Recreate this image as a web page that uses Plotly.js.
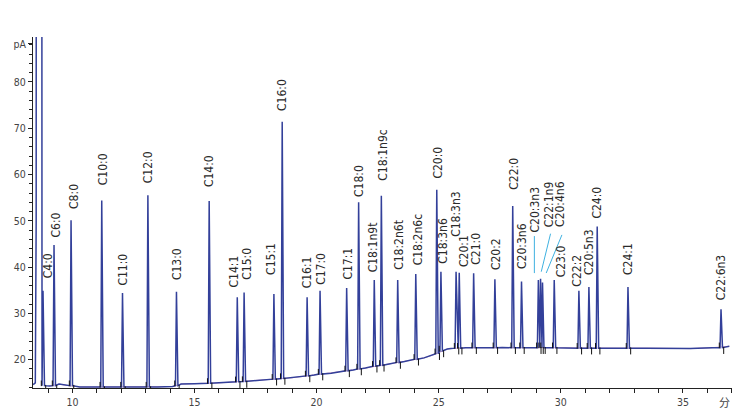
<!DOCTYPE html>
<html><head><meta charset="utf-8">
<script src="https://cdn.plot.ly/plotly-3.0.1.min.js"></script>
<style>html,body{margin:0;padding:0;background:#fff}#chart{width:754px;height:420px}</style>
</head><body><div id="chart"></div>
<script>
// ---------------- data ----------------
const peakLabels = ["C4:0","C6:0","C8:0","C10:0","C11:0","C12:0","C13:0","C14:0","C14:1","C15:0",
  "C15:1","C16:0","C16:1","C17:0","C17:1","C18:0","C18:1n9t","C18:1n9c","C18:2n6t","C18:2n6c",
  "C20:0","C18:3n6","C18:3n3","C20:1","C21:0","C20:2","C22:0","C20:3n6","C20:3n3","C22:1n9",
  "C20:4n6","C23:0","C22:2","C20:5n3","C24:0","C24:1","C22:6n3"];
const peakTimes = [8.795, 9.246, 9.943, 11.20, 12.05, 13.09, 14.26, 15.60, 16.75, 17.03,
  18.25, 18.59, 19.61, 20.14, 21.23, 21.72, 22.36, 22.65, 23.32, 24.06,
  24.92, 25.09, 25.71, 25.84, 26.43, 27.30, 28.03, 28.39, 29.08, 29.17,
  29.25, 29.73, 30.74, 31.15, 31.49, 32.75, 36.56];
const peakHeights = [34.9, 44.8, 50.1, 54.4, 34.4, 55.5, 34.7, 54.3, 33.5, 34.5,
  34.2, 71.4, 33.5, 34.9, 35.5, 54.0, 37.2, 55.4, 37.2, 38.5,
  56.7, 39.0, 39.0, 38.8, 38.7, 37.4, 53.2, 36.9, 37.2, 37.5,
  36.7, 37.2, 34.9, 35.7, 48.8, 35.7, 30.9];
const peakBases = [14.4, 14.4, 14.4, 14.1, 14.1, 14.1, 14.4, 14.9, 15.25, 15.3,
  15.8, 15.95, 16.5, 16.9, 17.6, 18.0, 18.6, 18.8, 19.4, 20.1,
  21.3, 21.9, 22.5, 22.5, 22.6, 22.6, 22.6, 22.6, 22.6, 22.6,
  22.6, 22.6, 22.5, 22.5, 22.5, 22.5, 22.6];
const baseTimes = [8.39, 8.48, 9.05, 9.45, 9.70, 10.3, 10.8, 11.6, 12.5, 13.5, 14.1, 14.45, 15.0, 15.3,
  16.0, 16.5, 17.5, 18.0, 19.0, 19.3, 19.9, 20.6, 21.0, 21.5, 22.0, 22.9, 23.6, 24.4, 24.7,
  25.35, 25.5, 26.1, 26.8, 27.6, 28.7, 29.5, 30.2, 31.8, 32.3, 33.5, 34.5, 35.3, 36.2, 36.9];
const baseValues = [14.6, 14.5, 14.3, 14.75, 14.5, 14.1, 14.1, 14.1, 14.1, 14.1, 14.2, 14.75, 14.8, 14.85,
  15.0, 15.15, 15.5, 15.7, 16.1, 16.3, 16.7, 17.1, 17.4, 17.8, 18.2, 19.0, 19.6, 20.4, 20.9,
  22.3, 22.4, 22.6, 22.6, 22.65, 22.6, 22.6, 22.55, 22.5, 22.5, 22.5, 22.45, 22.4, 22.6, 22.9];
const solventTimes = [8.39, 8.48, 8.515, 8.53, 8.725, 8.74, 8.75];
const solventValues = [14.6, 15.0, 50, 400, 400, 40, 15.0];
const xTickVals = [10, 15, 20, 25, 30, 35];
const xTickText = ["10", "15", "20", "25", "30", "35"];
const yTickVals = [20, 30, 40, 50, 60, 70, 80, 88.2];
const yTickText = ["20", "30", "40", "50", "60", "70", "80", "pA"];
const xUnitLabel = "分";
const xUnitPos = 36.69;

// ---------------- styling / placement (not data) ----------------
const W1 = 0.04, W2 = 0.06;             // peak foot half-widths (min)
const labelOffsets = [[5,12],[2,7],[3,11],[2,15],[1,7],[0,12],[0,12],[0,14],[-3,10],[2,13],
  [-3,19],[0,11],[0,9],[1,6],[1,8],[1,5],[-1,8],[2,15],[1,10],[2,9],
  [1,11],[2,8],[0,35],[4,6],[2,8],[1,9],[1,16],[1,12],[-3,48],[8,51],
  [18,55],[7,3],[-2,4],[0,12],[0,8],[0,12],[0,9]];
const leaders = [
  {peak: "C20:3n3", x0: -4, y0: 44, x1: -4, y1: 7},
  {peak: "C22:1n9", x0: 10, y0: 45, x1: 0.7, y1: 7},
  {peak: "C20:4n6", x0: 19.4, y0: 47.5, x1: 3.7, y1: 9.4}
];
const NARROW = "'Liberation Sans Narrow','Arial Narrow','DejaVu Sans Condensed','Roboto Condensed',sans-serif";

// ---------------- build signal ----------------
const lastSolvent = solventTimes[solventTimes.length - 1];
const pts = [];
solventTimes.forEach((t, i) => pts.push([t, solventValues[i]]));
baseTimes.forEach((t, i) => {
  if (t > lastSolvent && peakTimes.every(p => Math.abs(p - t) > 0.12)) pts.push([t, baseValues[i]]);
});
peakTimes.forEach((t, i) => {
  pts.push([t - W1, peakBases[i]]);
  pts.push([t, peakHeights[i]]);
  pts.push([t + W2, peakBases[i]]);
});
pts.sort((a, b) => a[0] - b[0]);

const traces = [
  { x: baseTimes.filter(t => t > lastSolvent), y: baseValues.filter((v, i) => baseTimes[i] > lastSolvent),
    mode: 'lines', line: {color: '#d7a2c6', width: 1}, hoverinfo: 'skip' },
  { x: pts.map(p => p[0]), y: pts.map(p => p[1]), mode: 'lines',
    line: {color: '#33409a', width: 1.5}, hoverinfo: 'skip' },
  { x: peakTimes.map(t => t - W1 - 0.03), y: peakBases.map(b => b + 0.5), mode: 'markers',
    marker: {symbol: 'line-ns', size: 4, line: {color: '#111', width: 1}}, hoverinfo: 'skip' },
  { x: peakTimes.map(t => t + W2 + 0.05), y: peakBases.map(b => b - 0.6), mode: 'markers',
    marker: {symbol: 'line-ns', size: 5, line: {color: '#111', width: 1}}, hoverinfo: 'skip' }
];

const annotations = peakLabels.map((lab, i) => ({
  x: peakTimes[i], y: peakHeights[i], xref: 'x', yref: 'y',
  text: lab, showarrow: false, textangle: -90,
  xanchor: 'center', yanchor: 'bottom',
  xshift: labelOffsets[i][0], yshift: labelOffsets[i][1],
  borderpad: 0, borderwidth: 0,
  font: {family: NARROW, size: 12, color: '#2b2b2b'}
}));
annotations.push({
  x: xUnitPos, y: 0, xref: 'x', yref: 'paper', text: xUnitLabel, showarrow: false,
  xanchor: 'center', yanchor: 'middle', yshift: -13.5,
  font: {family: "'Noto Sans CJK SC','Noto Sans CJK JP',sans-serif", size: 11, color: '#444'}
});

const shapes = leaders.map(l => {
  const i = peakLabels.indexOf(l.peak);
  return {
    type: 'line', xref: 'x', yref: 'y',
    xsizemode: 'pixel', ysizemode: 'pixel',
    xanchor: peakTimes[i], yanchor: peakHeights[i],
    x0: l.x0, x1: l.x1, y0: l.y0, y1: l.y1,
    line: {color: '#3fb1e0', width: 1}
  };
});

const axisCommon = {
  showline: true, linecolor: '#222', linewidth: 1, showgrid: false, zeroline: false,
  ticks: 'outside', tickcolor: '#222', ticklen: 4, tickwidth: 1,
  tickfont: {family: NARROW, size: 10.5, color: '#444'}
};

const layout = {
  width: 754, height: 420,
  margin: {l: 33, r: 22, t: 37, b: 32},
  paper_bgcolor: '#fff', plot_bgcolor: '#fff',
  showlegend: false,
  xaxis: Object.assign({}, axisCommon, {
    range: [8.385, 37.01], tickmode: 'array', tickvals: xTickVals, ticktext: xTickText,
    minor: {tickmode: 'linear', tick0: 0, dtick: 1, ticks: 'outside', ticklen: 4, tickcolor: '#222', showgrid: false}
  }),
  yaxis: Object.assign({}, axisCommon, {
    range: [13.89, 89.71], tickmode: 'array', tickvals: yTickVals, ticktext: yTickText,
    minor: {tickmode: 'linear', tick0: 0, dtick: 2, ticks: 'outside', ticklen: 3, tickcolor: '#222', showgrid: false}
  }),
  annotations: annotations,
  shapes: shapes
};

Plotly.newPlot('chart', traces, layout, {staticPlot: true, displayModeBar: false});
</script>
</body></html>
